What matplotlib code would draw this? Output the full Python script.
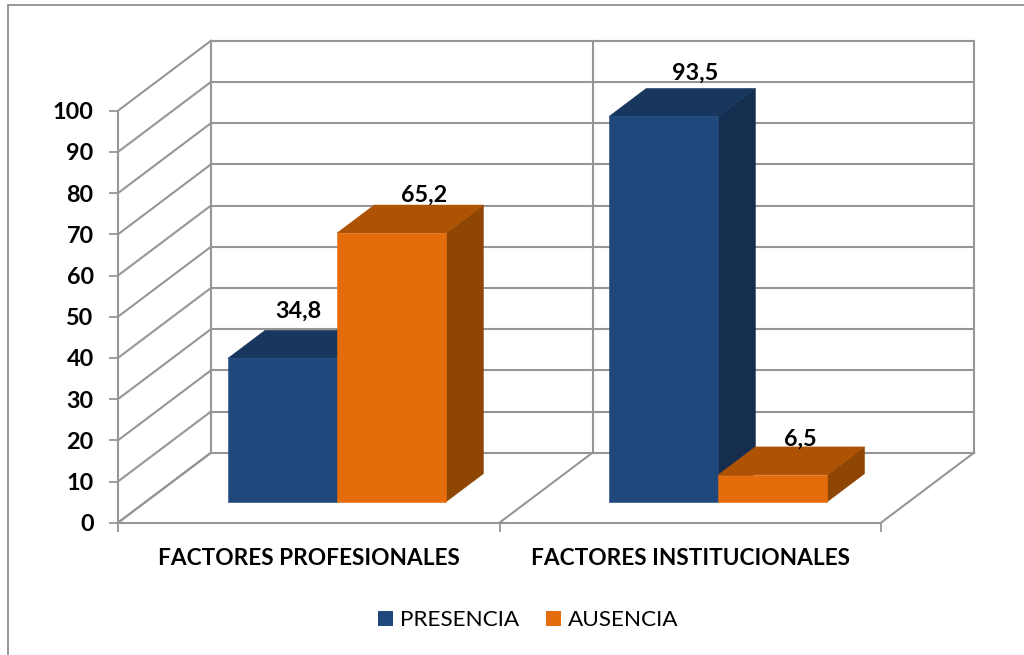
import matplotlib
matplotlib.use("Agg")
import matplotlib.pyplot as plt
from matplotlib.lines import Line2D

# ---- data ----
categories = ["FACTORES PROFESIONALES", "FACTORES INSTITUCIONALES"]
series_names = ["PRESENCIA", "AUSENCIA"]
presencia = [34.8, 93.5]
ausencia = [65.2, 6.5]
value_labels_p = ["34,8", "93,5"]
value_labels_a = ["65,2", "6,5"]
y_ticks = list(range(0, 101, 10))

# ---- style ----
W, H = 1024, 655
GRID = "#969696"
FRAME = "#868686"
FACES = {"PRESENCIA": ("#1F497D", "#17375E", "#152E50"),
         "AUSENCIA": ("#E46C0A", "#AE5304", "#8F4503")}
FONT = "Lato"
plt.rcParams["font.family"] = [FONT, "DejaVu Sans"]

fig = plt.figure(figsize=(W / 100, H / 100), dpi=100, facecolor="white")
# left wall front edge 118..881 px wide, value axis 522.7..110.7 px
ax = fig.add_axes([118 / W, (H - 522.7) / H, 763 / W, 412 / H], facecolor="none")
ax.set_xlim(0, 2)
ax.set_ylim(0, 100)

# oblique depth: one full depth unit, in data units
DX = 93 / 381.5
DY = 70 / 4.12


def proj(x, y, d):
    return x + d * DX, y + d * DY


def seg(p, q, **kw):
    ax.plot([p[0], q[0]], [p[1], q[1]], clip_on=False, solid_capstyle="projecting", **kw)


gkw = dict(color=GRID, lw=1.5, zorder=1)
for v in y_ticks:
    seg(proj(0, v, 0), proj(0, v, 1), **gkw)
    seg(proj(0, v, 1), proj(2, v, 1), **gkw)
for x in (0, 1, 2):
    seg(proj(x, 0, 1), proj(x, 100, 1), **gkw)
    seg(proj(x, 0, 0), proj(x, 0, 1), **gkw)


def box(x0, x1, v, names):
    front, top, side = FACES[names]
    d0, d1 = 0.3, 0.7
    def poly(pts, c, z):
        xs, ys = zip(*[proj(*p) for p in pts])
        ax.fill(xs, ys, facecolor=c, edgecolor=c, lw=0.4, clip_on=False, zorder=z)
    z = 3 + x0
    poly([(x1, 0, d0), (x1, 0, d1), (x1, v, d1), (x1, v, d0)], side, z)
    poly([(x0, v, d0), (x1, v, d0), (x1, v, d1), (x0, v, d1)], top, z)
    poly([(x0, 0, d0), (x1, 0, d0), (x1, v, d0), (x0, v, d0)], front, z)


bar_w = 0.286
starts = [0.215, 1.214]
for i in range(len(categories)):
    box(starts[i], starts[i] + bar_w, presencia[i], "PRESENCIA")
    box(starts[i] + bar_w, starts[i] + 2 * bar_w, ausencia[i], "AUSENCIA")

# data labels
lab_kw = dict(ha="center", va="center", fontsize=16.8, fontweight="bold", color="black",
              textcoords="offset pixels", zorder=20, annotation_clip=False)
offs_p = [(-21, 19), (-6, 15)]
offs_a = [(-5, 10), (-10, 8)]
for i in range(len(categories)):
    x0 = starts[i]
    ax.annotate(value_labels_p[i], proj(x0 + bar_w / 2, presencia[i], 0.7),
                xytext=offs_p[i], **lab_kw)
    ax.annotate(value_labels_a[i], proj(x0 + 1.5 * bar_w, ausencia[i], 0.7),
                xytext=offs_a[i], **lab_kw)

# axes
for s in ("top", "right"):
    ax.spines[s].set_visible(False)
for s in ("left", "bottom"):
    ax.spines[s].set_color(GRID)
    ax.spines[s].set_linewidth(1.5)
ax.set_yticks(y_ticks)
ax.set_yticklabels([str(v) for v in y_ticks], fontsize=16.8, fontweight="bold")
ax.tick_params(axis="y", length=6.5, width=1.3, color=GRID, pad=11, labelcolor="black")
ax.set_xticks([0, 1, 2])
ax.set_xticklabels(["", "", ""])
ax.tick_params(axis="x", which="major", length=6.5, width=1.3, color=GRID)
ax.set_xticks([0.5, 1.5], minor=True)
ax.set_xticklabels(categories, minor=True, fontsize=16.3, fontweight="bold")
ax.tick_params(axis="x", which="minor", length=0, pad=18, labelcolor="black")

# outer frame: top and left only
fig.add_artist(Line2D([7.5 / W, 7.5 / W, 1], [0, (H - 4.5) / H, (H - 4.5) / H],
                      color=FRAME, lw=1.2, transform=fig.transFigure, solid_joinstyle="miter"))

# legend
handles = [Line2D([], [], ls="none", marker="s", ms=10.8, mfc=FACES[n][0], mec=FACES[n][0], mew=0)
           for n in series_names]
fig.legend(handles, series_names, loc="center", bbox_to_anchor=(526 / W, (H - 620) / H),
           ncol=2, frameon=False, fontsize=16.2, handlelength=1.0, handletextpad=0.17,
           columnspacing=1.0, borderpad=0)

fig.savefig("out.png", dpi=100, facecolor="white")
